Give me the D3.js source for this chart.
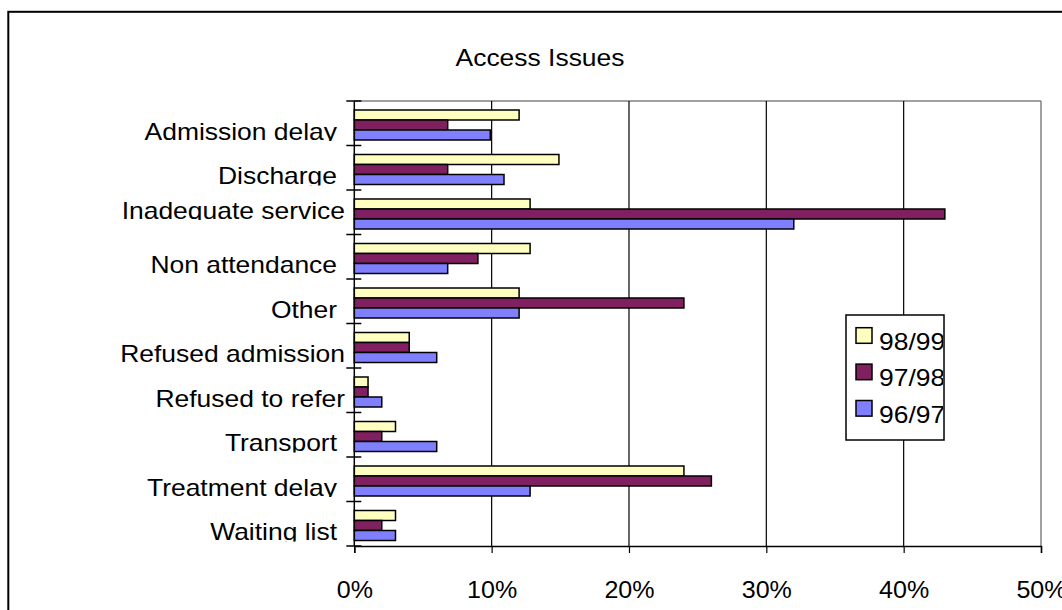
<!DOCTYPE html>
<html>
<head>
<meta charset="utf-8">
<script src="https://cdn.jsdelivr.net/npm/d3@7"></script>
<style>
  html, body { margin: 0; padding: 0; background: #fff; }
  svg { display: block; }
  text { font-family: "Liberation Sans", Arial, sans-serif; fill: #000; }
</style>
</head>
<body>
<svg id="chart" width="1062" height="610"></svg>
<script>
// Access issues by category, share of cases per year (%)
const categories = [
  "Admission delay", "Discharge", "Inadequate service", "Non attendance", "Other",
  "Refused admission", "Refused to refer", "Transport", "Treatment delay", "Waiting list"
];
const seriesNames = ["98/99", "97/98", "96/97"];
const values9899 = [12, 14.9, 12.8, 12.8, 12, 4, 1, 3, 24, 3];
const values9798 = [6.8, 6.8, 43, 9, 24, 4, 1, 2, 26, 2];
const values9697 = [9.9, 10.9, 32, 6.8, 12, 6, 2, 6, 12.8, 3];
const xTickValues = [0, 10, 20, 30, 40, 50];
const chartTitle = "Access Issues";

const seriesValues = [values9899, values9798, values9697];
const colors = { "98/99": "#FFFFC0", "97/98": "#802060", "96/97": "#8080FF" };

const svg = d3.select("#chart");
const fontSize = 23;
const stretch = 1.15;

const plot = { left: 354.3, right: 1041, top: 101, bottom: 546 };

const x = d3.scaleLinear().domain([0, 50]).range([plot.left, plot.right]);
const y = d3.scaleBand().domain(categories).range([plot.top, plot.bottom]).padding(0);
const ySub = d3.scaleBand().domain(seriesNames).range([9, 39]).padding(0);

// outer chart frame
svg.append("rect")
  .attr("x", 8.3).attr("y", 11.8)
  .attr("width", 1200).attr("height", 800)
  .attr("fill", "none").attr("stroke", "#000").attr("stroke-width", 2);

// title
svg.append("text")
  .attr("transform", `translate(540,66) scale(${stretch},1)`)
  .attr("text-anchor", "middle")
  .style("font-size", fontSize + "px")
  .text(chartTitle);

// plot area border (top and right)
svg.append("line").attr("x1", plot.left).attr("x2", plot.right).attr("y1", plot.top).attr("y2", plot.top)
  .attr("stroke", "#808080").attr("stroke-width", 1.5);
svg.append("line").attr("x1", plot.right).attr("x2", plot.right).attr("y1", plot.top).attr("y2", plot.bottom)
  .attr("stroke", "#808080").attr("stroke-width", 1.5);

// vertical gridlines
svg.append("g").selectAll("line")
  .data(xTickValues.filter(d => d > 0 && d < 50))
  .join("line")
  .attr("x1", d => x(d)).attr("x2", d => x(d))
  .attr("y1", plot.top).attr("y2", plot.bottom)
  .attr("stroke", "#000").attr("stroke-width", 1.2);

// bars
const groups = svg.append("g").selectAll("g")
  .data(categories)
  .join("g")
  .attr("transform", c => `translate(0,${y(c)})`);

groups.selectAll("rect")
  .data((c, i) => seriesNames.map((s, k) => ({ s, v: seriesValues[k][i] })))
  .join("rect")
  .attr("x", x(0))
  .attr("y", d => ySub(d.s))
  .attr("width", d => x(d.v) - x(0))
  .attr("height", ySub.bandwidth())
  .attr("fill", d => colors[d.s])
  .attr("stroke", "#000")
  .attr("stroke-width", 1.5);

// x axis
const xAxis = svg.append("g")
  .attr("transform", `translate(0,${plot.bottom})`)
  .call(d3.axisBottom(x).tickValues(xTickValues).tickSize(7).tickFormat(d => d + "%"));
xAxis.select(".domain").attr("stroke", "#000").attr("stroke-width", 1.5);
xAxis.selectAll(".tick line").attr("stroke", "#000").attr("stroke-width", 1.2);
xAxis.selectAll(".tick text")
  .attr("y", 0).attr("dy", 0)
  .attr("transform", "translate(0,52) scale(1.09,1)")
  .style("font-size", fontSize + "px")
  .style("font-family", "'Liberation Sans', Arial, sans-serif")
  .attr("fill", "#000");

// y axis: line plus ticks at category boundaries
svg.append("line").attr("x1", plot.left).attr("x2", plot.left).attr("y1", plot.top).attr("y2", plot.bottom)
  .attr("stroke", "#000").attr("stroke-width", 1.5);
const boundaries = categories.map(c => y(c)).concat([plot.bottom]);
svg.append("g").selectAll("line")
  .data(boundaries)
  .join("line")
  .attr("x1", plot.left - 8).attr("x2", plot.left + 7)
  .attr("y1", d => d).attr("y2", d => d)
  .attr("stroke", "#000").attr("stroke-width", 1.5);

// category labels, clipped just below the baseline
const tightLabels = new Set(["Inadequate service", "Refused admission", "Refused to refer"]);
const raisedLabels = { "Inadequate service": 10 };
const defs = svg.append("defs");
categories.forEach((c, i) => {
  const base = y(c) + y.bandwidth() - 6 - (raisedLabels[c] || 0);
  const clipId = "lab" + i;
  defs.append("clipPath").attr("id", clipId)
    .append("rect").attr("x", 0).attr("y", base - 30).attr("width", 350).attr("height", 31.5);
  const xr = tightLabels.has(c) ? 345 : 337;
  svg.append("g").attr("clip-path", `url(#${clipId})`)
    .append("text")
    .attr("transform", `translate(${xr},${base}) scale(${stretch},1)`)
    .attr("text-anchor", "end")
    .style("font-size", fontSize + "px")
    .text(c);
});

// legend
const lg = { x: 846, y: 315, w: 98, h: 125 };
svg.append("rect").attr("x", lg.x).attr("y", lg.y).attr("width", lg.w).attr("height", lg.h)
  .attr("fill", "#fff").attr("stroke", "#000").attr("stroke-width", 1.5);
defs.append("clipPath").attr("id", "legclip")
  .append("rect").attr("x", lg.x).attr("y", lg.y).attr("width", lg.w - 1).attr("height", lg.h);
const items = svg.append("g").attr("clip-path", "url(#legclip)")
  .selectAll("g").data(seriesNames).join("g")
  .attr("transform", (d, i) => `translate(${lg.x},${lg.y + 12.7 + i * 36.4})`);
items.append("rect")
  .attr("x", 10).attr("y", 0).attr("width", 16).attr("height", 15.6)
  .attr("fill", d => colors[d]).attr("stroke", "#000").attr("stroke-width", 1.5);
items.append("text")
  .attr("transform", `translate(33,22.3) scale(${stretch},1)`)
  .style("font-size", fontSize + "px")
  .text(d => d);
</script>
</body>
</html>
